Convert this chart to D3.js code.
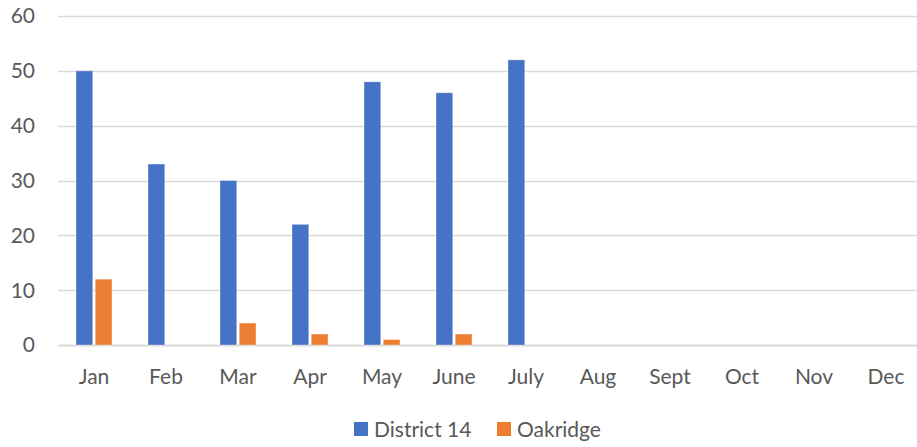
<!DOCTYPE html>
<html>
<head>
<meta charset="utf-8">
<script src="https://cdn.jsdelivr.net/npm/d3@7"></script>
<style>
  body { margin: 0; background: #fff; }
  svg text { font-family: Lato, "Open Sans", sans-serif; fill: #595959; }
</style>
</head>
<body>
<svg id="chart" width="917" height="447"></svg>
<script>
const months = ['Jan', 'Feb', 'Mar', 'Apr', 'May', 'June', 'July', 'Aug', 'Sept', 'Oct', 'Nov', 'Dec'];
const district14 = [50, 33, 30, 22, 48, 46, 52, null, null, null, null, null];
const oakridge = [12, 0, 4, 2, 1, 2, 0, null, null, null, null, null];
const seriesNames = ['District 14', 'Oakridge'];
const colors = ['#4472C4', '#ED7D31'];
const yTicks = [0, 10, 20, 30, 40, 50, 60];

const margin = { top: 16, right: -5, bottom: 102, left: 58 };
const width = 917, height = 447;
const fontSize = '21px';

const svg = d3.select('#chart');

const x = d3.scaleBand()
  .domain(months)
  .range([margin.left, width - margin.right])
  .paddingInner(0)
  .paddingOuter(0);

const y = d3.scaleLinear()
  .domain([0, 60])
  .range([height - margin.bottom, margin.top]);

const inner = d3.scaleBand()
  .domain(seriesNames)
  .range([18, x.bandwidth() - 18])
  .paddingInner(0.13);

// gridlines
svg.append('g')
  .selectAll('line')
  .data(yTicks)
  .join('line')
  .attr('x1', margin.left)
  .attr('x2', width)
  .attr('y1', d => Math.round(y(d)) + 0.5)
  .attr('y2', d => Math.round(y(d)) + 0.5)
  .attr('stroke', '#d9d9d9')
  .attr('stroke-width', d => d === 0 ? 2 : 1.5);

// y labels
svg.append('g')
  .selectAll('text')
  .data(yTicks)
  .join('text')
  .attr('x', 35)
  .attr('y', d => y(d))
  .attr('dy', '0.35em')
  .attr('text-anchor', 'end')
  .style('font-size', fontSize)
  .text(d => d);

// bars
const series = [district14, oakridge];
series.forEach((vals, si) => {
  svg.append('g')
    .selectAll('rect')
    .data(vals.map((v, i) => ({ m: months[i], v })).filter(d => d.v !== null))
    .join('rect')
    .attr('x', d => x(d.m) + inner(seriesNames[si]))
    .attr('width', inner.bandwidth())
    .attr('y', d => y(d.v))
    .attr('height', d => y(0) - y(d.v))
    .attr('fill', colors[si])
    .attr('stroke', d => d.v === 0 ? colors[si] : 'rgba(255,255,255,0.35)')
    .attr('stroke-opacity', d => d.v === 0 ? 0.25 : 1)
    .attr('stroke-width', 1);
});

// x labels
svg.append('g')
  .selectAll('text')
  .data(months)
  .join('text')
  .attr('x', d => x(d) + x.bandwidth() / 2)
  .attr('y', 384)
  .attr('text-anchor', 'middle')
  .style('font-size', fontSize)
  .text(d => d);

// legend
const legend = svg.append('g');
const legendX = [354, 497];
seriesNames.forEach((name, i) => {
  legend.append('rect')
    .attr('x', legendX[i])
    .attr('y', 422)
    .attr('width', 14)
    .attr('height', 14)
    .attr('fill', colors[i]);
  legend.append('text')
    .attr('x', legendX[i] + 20)
    .attr('y', 437)
    .style('font-size', fontSize)
    .text(name);
});
</script>
</body>
</html>
